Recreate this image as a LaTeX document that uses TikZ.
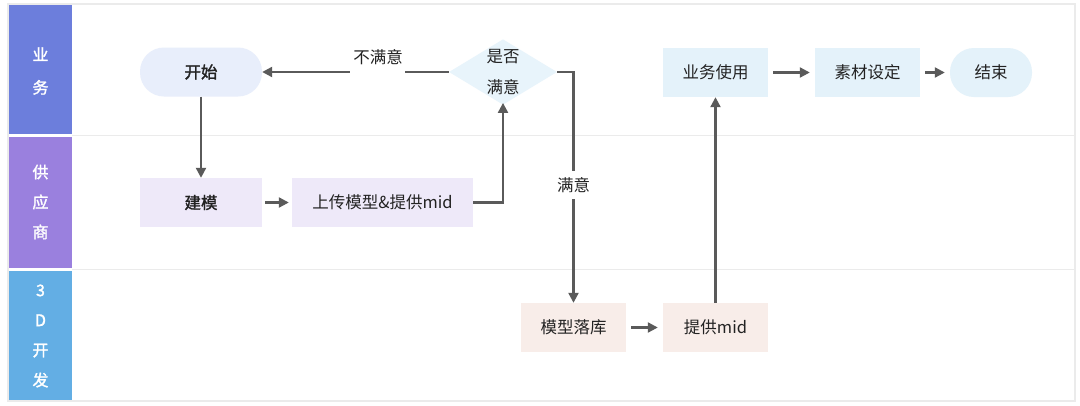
\documentclass[tikz,border=0pt]{standalone}
\usepackage{fontspec}
\setmainfont{Noto Sans CJK SC}
\newfontfamily\cjkb[FakeBold=1.5]{Noto Sans CJK SC}
\usetikzlibrary{shapes.geometric,arrows.meta}
\definecolor{lanebiz}{HTML}{6C7EDC}
\definecolor{lanesup}{HTML}{9A80DE}
\definecolor{lanedev}{HTML}{63AEE4}
\definecolor{fillstart}{HTML}{E8EEFB}
\definecolor{fillsup}{HTML}{EEE9F9}
\definecolor{filldev}{HTML}{F8EDE9}
\definecolor{fillbiz}{HTML}{E4F2FA}
\definecolor{linegray}{HTML}{5A5A5A}
\definecolor{framegray}{HTML}{EBEBEB}
\definecolor{txt}{HTML}{222222}
\tikzset{
  base/.style={font=\fontsize{16.5}{20}\selectfont, text=txt, inner sep=0pt},
  pill/.style={base, rounded corners=24pt, minimum height=49pt},
  boxn/.style={base, minimum height=49pt},
  dec/.style={base, diamond, aspect=1.65, fill=fillbiz!85, minimum width=102pt, minimum height=62pt, align=center, font=\fontsize{16.5}{31}\selectfont},
  conn/.style={draw=linegray, line width=2.2pt, -{Triangle[length=10pt,width=10pt]}},
  hdr/.style={text=white, font=\cjkb\fontsize{16}{30}\selectfont, align=center, inner sep=0pt},
  lbl/.style={base, fill=white, inner xsep=6pt, inner ysep=4pt}
}
\begin{document}
\begin{tikzpicture}[x=1pt,y=-1pt]
\useasboundingbox (0,0) rectangle (1080,405);
\fill[white] (0,0) rectangle (1080,405);
% frame
\draw[framegray, line width=1.5pt] (8,4) rectangle (1075,401);
\draw[framegray, line width=1.5pt] (72,135.5) -- (1075,135.5);
\draw[framegray, line width=1.5pt] (72,269.5) -- (1075,269.5);
% lane headers
\fill[lanebiz] (9,5) rectangle (72,134);
\fill[lanesup] (9,137) rectangle (72,268);
\fill[lanedev] (9,271) rectangle (72,400);
\node[hdr, font=\cjkb\fontsize{16}{33}\selectfont] (hbiz) at (40.5,71) {业\\务};
\node[hdr] (hsup) at (40.5,202) {供\\应\\商};
\node[hdr] (hdev) at (40.5,336) {3\\D\\开\\发};
% nodes
\node[pill, fill=fillstart, minimum width=122pt, font=\cjkb\fontsize{16.5}{20}\selectfont] (start) at (201,72) {开始};
\node[boxn, fill=fillsup, minimum width=122pt, font=\cjkb\fontsize{16.5}{20}\selectfont] (model) at (201,202.5) {建模};
\node[boxn, fill=fillsup, minimum width=181pt] (upload) at (382.5,202.5) {上传模型\&提供mid};
\node[dec] (ok) at (503,72) {是否\\满意};
\node[boxn, fill=filldev, minimum width=105pt] (store) at (573.5,327.5) {模型落库};
\node[boxn, fill=filldev, minimum width=105pt] (mid) at (715.5,327.5) {提供mid};
\node[boxn, fill=fillbiz, minimum width=105pt] (use) at (715.5,72.5) {业务使用};
\node[boxn, fill=fillbiz, minimum width=105pt] (mat) at (867.5,72.5) {素材设定};
\node[pill, fill=fillbiz, minimum width=82pt] (end) at (991,72.5) {结束};
% connectors
\draw[conn] (start.south) -- (model.north);
\draw[conn] (model.east) ++(3,0) -- ([xshift=-3pt]upload.west);
\draw[conn] (upload.east) -| ([yshift=2pt]ok.south);
\draw[conn] (ok.west) -- (start.east);
\fill[white] (350,64) rectangle (405,80);
\node[base] (nsat) at (378,57) {不满意};
\draw[conn] (ok.east) -| node[lbl, pos=0.745, inner ysep=6pt] (sat) {满意} (store.north);
\draw[conn] (store.east) ++(5,0) -- ([xshift=-5pt]mid.west);
\draw[conn] (mid.north) -- (use.south);
\draw[conn] (use.east) ++(5,0) -- ([xshift=-5pt]mat.west);
\draw[conn] (mat.east) ++(5,0) -- ([xshift=-5pt]end.west);
\end{tikzpicture}
\end{document}
